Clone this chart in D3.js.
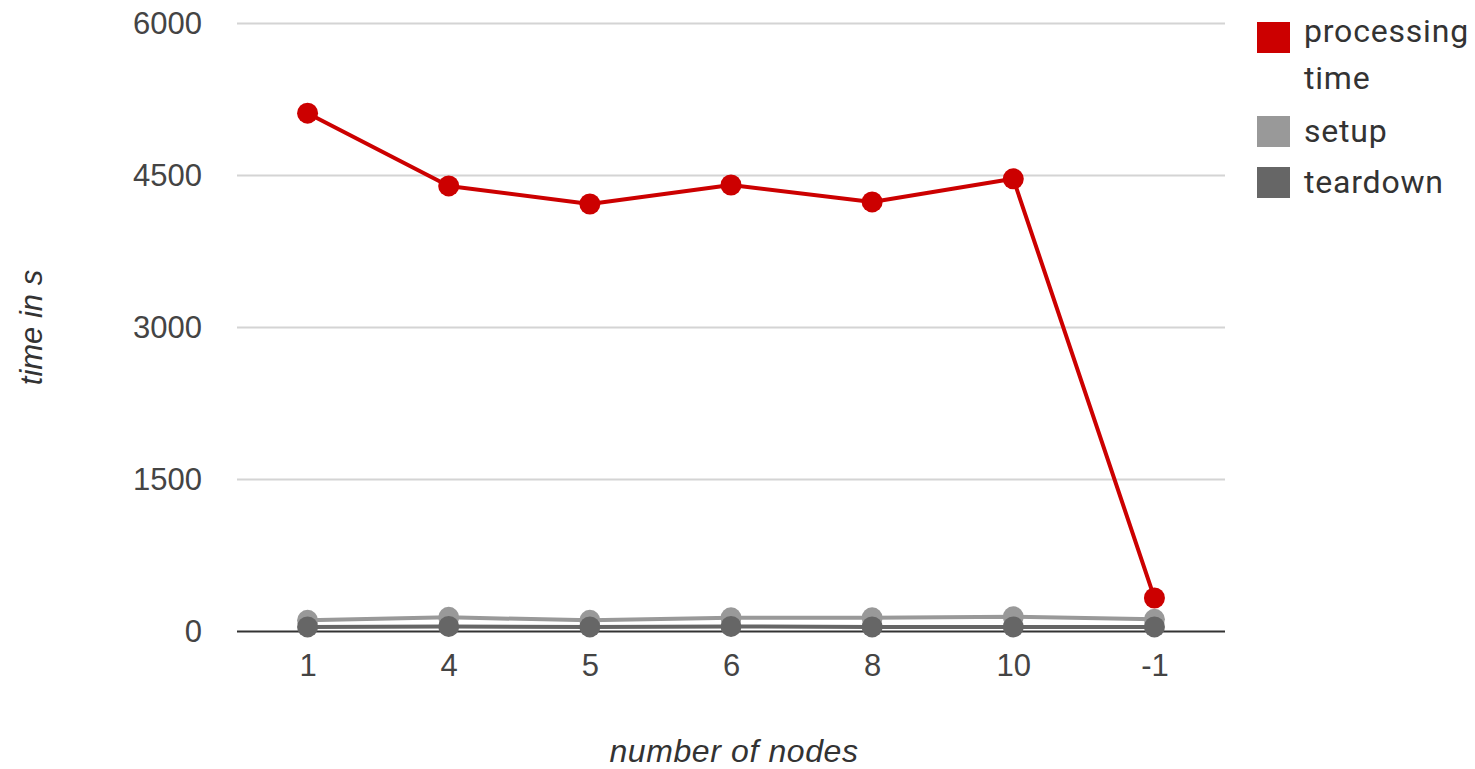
<!DOCTYPE html>
<html>
<head>
<meta charset="utf-8">
<script src="https://cdn.jsdelivr.net/npm/d3@7"></script>
<style>
  html, body { margin: 0; padding: 0; background: #fff; }
  svg { display: block; font-family: "Liberation Sans", Arial, sans-serif; }
</style>
</head>
<body>
<svg id="chart" width="1475" height="769"></svg>
<script>
// Node counts on the x axis (-1 = auto)
const categories = ["1", "4", "5", "6", "8", "10", "-1"];

// Run times in seconds
const processingTime = [5115, 4397, 4219, 4406, 4239, 4467, 331];
const setup          = [110, 140, 110, 135, 135, 145, 120];
const teardown       = [45, 50, 45, 50, 45, 45, 45];

const yTicks = [0, 1500, 3000, 4500, 6000];

const seriesNames  = ["processing time", "setup", "teardown"];
const seriesColors = ["#cc0000", "#999999", "#666666"];
const seriesValues = [processingTime, setup, teardown];

const svg = d3.select("#chart");
const plotLeft = 237, plotRight = 1225, plotTop = 23.5, plotBottom = 631.5;

const x = d3.scalePoint().domain(categories).range([plotLeft, plotRight]).padding(0.5);
const y = d3.scaleLinear().domain([0, 6000]).range([plotBottom, plotTop]);

// gridlines
svg.append("g")
  .selectAll("line")
  .data(yTicks.filter(d => d !== 0))
  .join("line")
  .attr("x1", plotLeft).attr("x2", plotRight)
  .attr("y1", d => y(d)).attr("y2", d => y(d))
  .attr("stroke", "#d4d4d4").attr("stroke-width", 2);

// y axis labels
const yAxis = svg.append("g")
  .attr("transform", `translate(${plotLeft},0)`)
  .call(d3.axisLeft(y).tickValues(yTicks).tickSize(0).tickPadding(35).tickFormat(d3.format("d")));
yAxis.select(".domain").remove();
yAxis.selectAll("text")
  .attr("font-size", 31).attr("fill", "#444")
  .attr("font-family", "'Liberation Sans', Arial, sans-serif");

// x axis labels
const xAxis = svg.append("g")
  .attr("transform", `translate(0,${plotBottom})`)
  .call(d3.axisBottom(x).tickSize(0).tickPadding(22));
xAxis.select(".domain").remove();
xAxis.selectAll("text")
  .attr("font-size", 31).attr("fill", "#444")
  .attr("font-family", "'Liberation Sans', Arial, sans-serif");

// baseline
svg.append("line")
  .attr("x1", plotLeft).attr("x2", plotRight)
  .attr("y1", y(0)).attr("y2", y(0))
  .attr("stroke", "#333").attr("stroke-width", 2);

// axis titles
svg.append("text")
  .attr("x", (plotLeft + plotRight) / 2 + 3).attr("y", 762)
  .attr("text-anchor", "middle")
  .attr("font-size", 32).attr("letter-spacing", 0.6)
  .attr("font-style", "italic").attr("fill", "#333")
  .text("number of nodes");

svg.append("text")
  .attr("transform", `translate(42,${(plotTop + plotBottom) / 2}) rotate(-90)`)
  .attr("text-anchor", "middle")
  .attr("font-size", 31).attr("font-style", "italic").attr("fill", "#333")
  .text("time in s");

// series lines and points
const line = d3.line().x((d, i) => x(categories[i])).y(d => y(d));

seriesValues.forEach((vals, s) => {
  const g = svg.append("g");
  g.append("path")
    .datum(vals)
    .attr("d", line)
    .attr("fill", "none")
    .attr("stroke", seriesColors[s])
    .attr("stroke-width", 4)
    .attr("stroke-linejoin", "round");
  g.selectAll("circle")
    .data(vals)
    .join("circle")
    .attr("cx", (d, i) => x(categories[i]))
    .attr("cy", d => y(d))
    .attr("r", 10.5)
    .attr("fill", seriesColors[s]);
});

// legend
const legendSquares = [22, 116, 167];
const legend = svg.append("g");
seriesNames.forEach((name, i) => {
  legend.append("rect")
    .attr("x", 1257).attr("y", legendSquares[i])
    .attr("width", 33).attr("height", 31)
    .attr("fill", seriesColors[i]);
});
const legendText = [
  { t: "processing", yb: 42 },
  { t: "time", yb: 89 },
  { t: "setup", yb: 142 },
  { t: "teardown", yb: 193 }
];
legend.selectAll("text.lg")
  .data(legendText)
  .join("text")
  .attr("class", "lg")
  .attr("x", 1304).attr("y", d => d.yb)
  .attr("font-size", 32).attr("letter-spacing", 0.8).attr("fill", "#333")
  .attr("font-family", "Roboto, 'Liberation Sans', Arial, sans-serif")
  .text(d => d.t);
</script>
</body>
</html>
